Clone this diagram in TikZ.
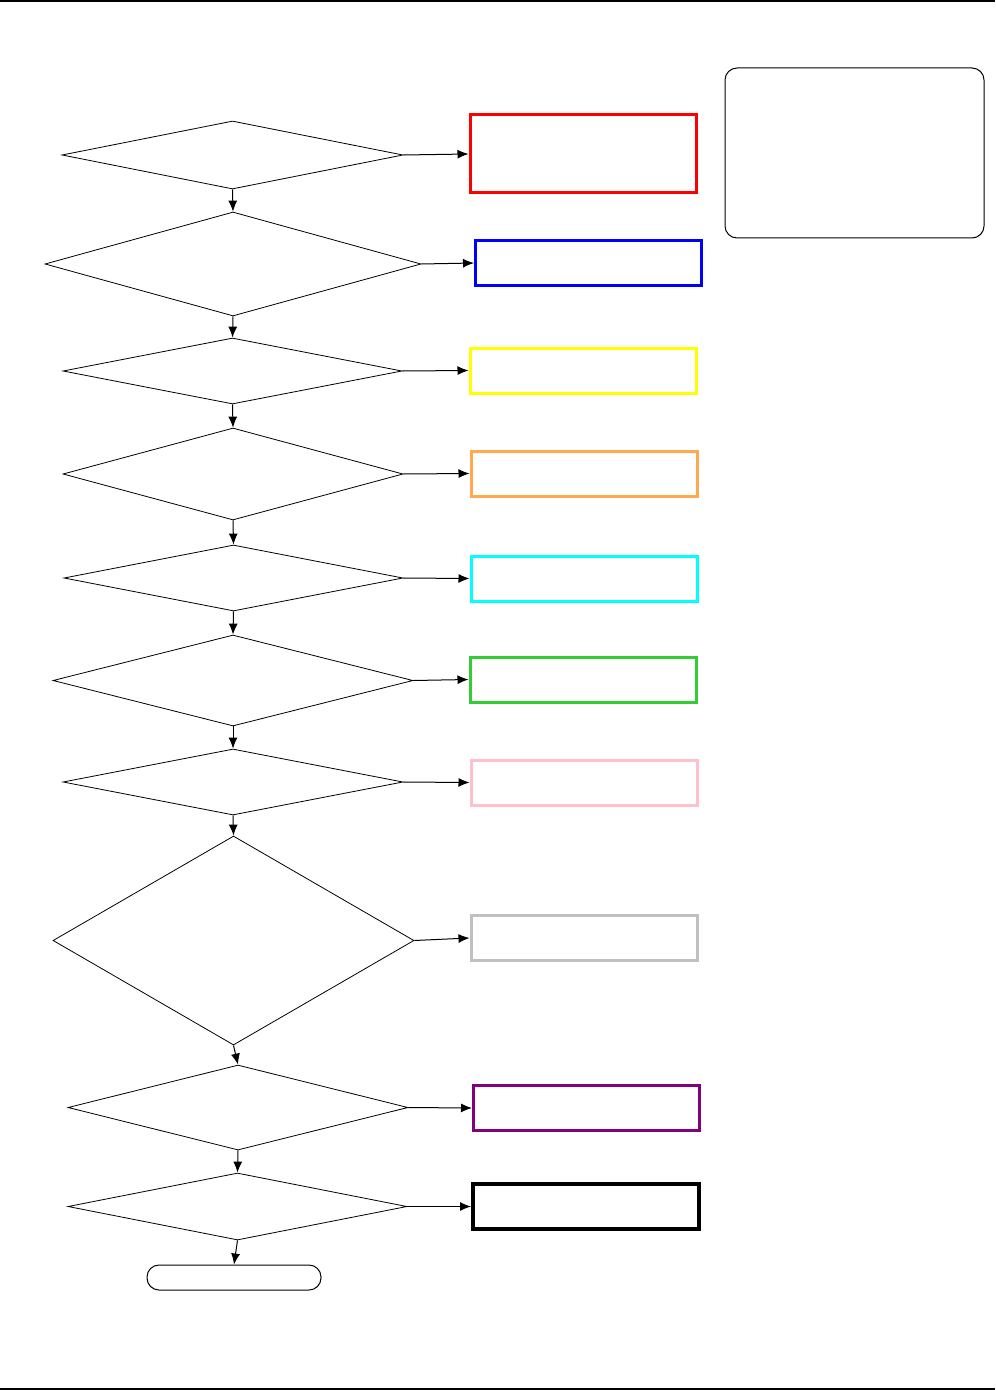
\documentclass[tikz,border=0pt]{standalone}
\usetikzlibrary{shapes.geometric,arrows.meta}
\newcommand{\pxu}{0.5pt}
\definecolor{boxred}{RGB}{255,0,0}
\definecolor{boxblue}{RGB}{0,0,255}
\definecolor{boxyellow}{RGB}{255,255,0}
\definecolor{boxorange}{RGB}{255,168,80}
\definecolor{boxcyan}{RGB}{0,255,255}
\definecolor{boxgreen}{RGB}{50,205,50}
\definecolor{boxpink}{RGB}{255,192,203}
\definecolor{boxgray}{RGB}{192,192,192}
\definecolor{boxpurple}{RGB}{128,0,128}
\begin{document}
\begin{tikzpicture}[x=0.5pt,y=-0.5pt,
    test/.style={draw,diamond,inner sep=0pt,line width=0.4pt},
    result/.style={draw,rectangle,inner sep=0pt,line width=1.5pt,
      minimum width=226*\pxu,minimum height=45*\pxu},
    flow/.style={-{Latex[length=5.5pt,width=4.5pt]},line width=0.5pt}]
  \useasboundingbox (0,0) rectangle (995,1390);
  \draw[line width=0.8pt] (0,1) -- (995,1);
  \draw[line width=0.8pt] (0,1389) -- (995,1389);
  \draw
    (232.5,155) node[test,minimum width=341*\pxu,minimum height=68*\pxu] (t1){}
    (233,264) node[test,minimum width=376*\pxu,minimum height=104*\pxu] (t2){}
    (232.5,371) node[test,minimum width=339*\pxu,minimum height=66*\pxu] (t3){}
    (233,474) node[test,minimum width=340*\pxu,minimum height=92*\pxu] (t4){}
    (233.5,578) node[test,minimum width=339*\pxu,minimum height=66*\pxu] (t5){}
    (233,680.5) node[test,minimum width=360*\pxu,minimum height=91*\pxu] (t6){}
    (233,782) node[test,minimum width=340*\pxu,minimum height=66*\pxu] (t7){}
    (233.5,940.5) node[test,minimum width=361*\pxu,minimum height=209*\pxu] (t8){}
    (238,1107.5) node[test,minimum width=340*\pxu,minimum height=85*\pxu] (t9){}
    (237.5,1206.5) node[test,minimum width=339*\pxu,minimum height=67*\pxu] (t10){};
  \draw
    (583,154) node[result,draw=boxred,minimum height=78*\pxu] (r1){}
    (588.5,263) node[result,draw=boxblue] (r2){}
    (583,370.5) node[result,draw=boxyellow] (r3){}
    (584,473.5) node[result,draw=boxorange] (r4){}
    (584,578.5) node[result,draw=boxcyan] (r5){}
    (583,679.5) node[result,draw=boxgreen] (r6){}
    (584,782.5) node[result,draw=boxpink] (r7){}
    (584,938) node[result,draw=boxgray] (r8){}
    (586.5,1108) node[result,draw=boxpurple] (r9){}
    (586,1206.5) node[result,draw=black,line width=2pt] (r10){};
  \node[draw,rectangle,rounded corners=6pt,line width=0.5pt,inner sep=0pt,
    minimum width=174*\pxu,minimum height=25*\pxu] (stop) at (234,1277.5) {};
  \node[draw,rectangle,rounded corners=6pt,line width=0.5pt,inner sep=0pt,
    minimum width=259*\pxu,minimum height=170*\pxu] (legend) at (854.5,153) {};
  \begin{scope}[flow]
    \draw (t1.east) -- (r1.west);
    \draw (t2.east) -- (r2.west);
    \draw (t3.east) -- (r3.west);
    \draw (t4.east) -- (r4.west);
    \draw (t5.east) -- (r5.west);
    \draw (t6.east) -- (r6.west);
    \draw (t7.east) -- (r7.west);
    \draw (t8.east) -- (r8.west);
    \draw (t9.east) -- (r9.west);
    \draw (t10.east) -- (r10.west);
    \draw (t1.south) -- (t2.north);
    \draw (t2.south) -- (t3.north);
    \draw (t3.south) -- (t4.north);
    \draw (t4.south) -- (t5.north);
    \draw (t5.south) -- (t6.north);
    \draw (t6.south) -- (t7.north);
    \draw (t7.south) -- (t8.north);
    \draw (t8.south) -- (t9.north);
    \draw (t9.south) -- (t10.north);
    \draw (t10.south) -- (stop.north);
  \end{scope}
\end{tikzpicture}
\end{document}
